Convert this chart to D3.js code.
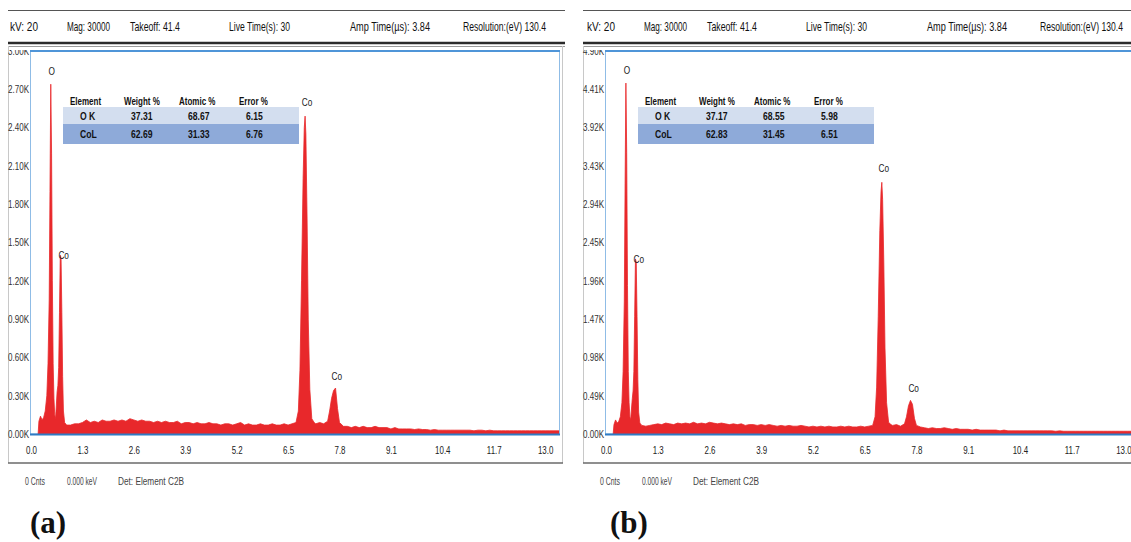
<!DOCTYPE html>
<html><head><meta charset="utf-8">
<script src="https://cdn.jsdelivr.net/npm/d3@7"></script>
<style>
body{margin:0;background:#fff;}
svg{display:block;}
</style></head><body>
<svg id="c" width="1131" height="542"></svg>
<script>
// ---------------- data ----------------
const energy = [
  0.18,0.20,0.24,0.28,0.32,0.36,0.40,0.43,0.46,0.48,0.50,0.52,0.54,0.56,0.58,0.60,0.62,0.64,0.66,0.68,0.70,0.72,0.74,0.76,0.78,0.80,0.82,0.85,0.90,
  1.0,1.1,1.2,1.3,1.4,1.5,1.6,1.7,1.8,1.9,
  2.0,2.1,2.2,2.3,2.4,2.5,2.6,2.7,2.8,2.9,
  3.0,3.1,3.2,3.3,3.4,3.5,3.6,3.7,3.8,3.9,
  4.0,4.1,4.2,4.3,4.4,4.5,4.6,4.7,4.8,4.9,
  5.0,5.1,5.2,5.3,5.4,5.5,5.6,5.7,5.8,5.9,
  6.0,6.1,6.2,6.3,6.4,6.5,6.6,
  6.70,6.76,6.80,6.84,6.88,6.91,6.93,6.95,6.98,7.01,7.05,7.10,7.16,7.20,7.30,7.40,
  7.50,7.55,7.60,7.65,7.70,7.75,7.80,7.90,
  8.0,8.1,8.2,8.3,8.4,8.5,8.6,8.7,8.8,8.9,
  9.0,9.1,9.2,9.3,9.4,9.5,9.6,9.7,9.8,9.9,
  10.0,10.1,10.2,10.3,10.4,10.5,10.6,10.7,10.8,10.9,
  11.0,11.1,11.2,11.3,11.4,11.5,11.6,11.7,11.8,11.9,
  12.0,12.1,12.2,12.3,12.4,12.5,12.6,12.7,12.8,12.9,
  13.0,13.1,13.2,13.3,13.4
];
// counts in K (thousands)
const countsA = [
  0,0.10,0.14,0.11,0.13,0.18,0.30,0.55,1.05,1.90,2.74,2.20,1.20,0.55,0.28,0.15,0.12,0.22,0.33,0.38,0.52,0.95,1.40,1.38,0.95,0.45,0.18,0.09,0.07,
  0.07,0.08,0.08,0.09,0.11,0.09,0.10,0.09,0.11,0.10,
  0.10,0.11,0.10,0.11,0.10,0.12,0.11,0.10,0.11,0.10,
  0.10,0.09,0.10,0.09,0.10,0.09,0.09,0.10,0.08,0.09,
  0.09,0.08,0.09,0.08,0.08,0.09,0.08,0.08,0.07,0.08,
  0.08,0.07,0.08,0.09,0.07,0.08,0.07,0.07,0.08,0.07,
  0.07,0.08,0.07,0.07,0.08,0.07,0.08,
  0.09,0.18,0.50,1.20,2.00,2.40,2.49,2.35,1.70,0.90,0.35,0.12,0.09,0.08,0.09,0.08,
  0.10,0.18,0.28,0.34,0.36,0.20,0.09,0.06,
  0.06,0.05,0.06,0.05,0.06,0.05,0.05,0.06,0.05,0.05,
  0.05,0.04,0.05,0.04,0.04,0.04,0.04,0.035,0.04,0.035,
  0.035,0.03,0.035,0.03,0.03,0.03,0.03,0.03,0.03,0.03,
  0.03,0.03,0.025,0.03,0.03,0.025,0.03,0.025,0.025,0.025,
  0.025,0.025,0.025,0.025,0.025,0.025,0.025,0.025,0.025,0.025,
  0.025,0.025,0.025,0.025,0.025
];
const countsB = [
  0,0.12,0.18,0.14,0.16,0.22,0.40,0.80,1.70,3.20,4.49,3.60,1.90,0.80,0.40,0.22,0.18,0.32,0.45,0.55,0.80,1.50,2.24,2.20,1.50,0.70,0.28,0.14,0.11,
  0.10,0.11,0.12,0.13,0.12,0.14,0.13,0.12,0.14,0.13,
  0.14,0.13,0.15,0.13,0.14,0.13,0.15,0.14,0.13,0.14,
  0.13,0.12,0.13,0.12,0.13,0.11,0.12,0.12,0.11,0.12,
  0.11,0.12,0.11,0.10,0.11,0.10,0.11,0.10,0.10,0.11,
  0.10,0.09,0.10,0.09,0.10,0.09,0.10,0.09,0.09,0.10,
  0.09,0.10,0.09,0.09,0.10,0.09,0.10,
  0.11,0.22,0.60,1.50,2.60,3.10,3.22,3.00,2.20,1.10,0.40,0.15,0.12,0.11,0.12,0.10,
  0.13,0.22,0.36,0.43,0.38,0.20,0.11,0.09,
  0.08,0.07,0.08,0.07,0.07,0.08,0.07,0.06,0.07,0.06,
  0.06,0.06,0.05,0.06,0.05,0.05,0.05,0.05,0.05,0.04,
  0.05,0.04,0.04,0.04,0.04,0.04,0.04,0.04,0.04,0.04,
  0.04,0.04,0.04,0.035,0.04,0.035,0.035,0.035,0.035,0.035,
  0.035,0.035,0.035,0.035,0.035,0.035,0.035,0.035,0.035,0.035,
  0.035,0.035,0.035,0.035,0.035
];
const xTicks = [0.0,1.3,2.6,3.9,5.2,6.5,7.8,9.1,10.4,11.7,13.0];
const yTicksA = [0,0.30,0.60,0.90,1.20,1.50,1.80,2.10,2.40,2.70,3.00];
const yTicksB = [0,0.49,0.98,1.47,1.96,2.45,2.94,3.43,3.92,4.41,4.90];
const headerLabels = ["kV: 20","Mag: 30000","Takeoff: 41.4","Live Time(s): 30","Amp Time(µs): 3.84","Resolution:(eV) 130.4"];
const footerLabels = ["0 Cnts","0.000 keV","Det: Element C2B"];
const tableColumns = ["Element","Weight %","Atomic %","Error %"];
const tableElements = ["O K","CoL"];
const weightA = ["37.31","62.69"], atomicA = ["68.67","31.33"], errorA = ["6.15","6.76"];
const weightB = ["37.17","62.83"], atomicB = ["68.55","31.45"], errorB = ["5.98","6.51"];
const peakEnergies = [0.50,0.75,6.93,7.68];
const peakNames = ["O","Co","Co","Co"];
const panelNames = ["(a)","(b)"];

// ---------------- drawing ----------------
const svg = d3.select("#c");
const SANS = "'Liberation Sans',Arial,sans-serif";
const RED = "#e8282b";

function condense(sel, f){
  sel.each(function(){
    const L = this.getComputedTextLength();
    d3.select(this).attr("textLength", L*f).attr("lengthAdjust","spacingAndGlyphs");
  });
  return sel;
}

const panels = [
  {ox:0, kevPx:39.55, yMax:3.0, yTicks:yTicksA, counts:countsA, w:weightA, a:atomicA, e:errorA, name:panelNames[0], nameX:30},
  {ox:575, kevPx:39.8, yMax:4.9, yTicks:yTicksB, counts:countsB, w:weightB, a:atomicB, e:errorB, name:panelNames[1], nameX:35}
];

const headerX = [10,67,130,229,350,463];
const headerW = [28,43,50,61,80,83];
const footerX = [25,67,118];
const footerW = [20,30,66];
const colX = [70,124,179,239];
const valX = [80,131,188,246];
const labelDx = [1,3,2,2];
const labelDy = [-13,0,-14,-12];

panels.forEach((p,pi) => {
  const g = svg.append("g");
  const ox = p.ox;
  const plotL = ox+30, plotT = 51, plotB = 434, plotR = ox+559;
  const x = d3.scaleLinear().domain([0,13.4]).range([ox+31, ox+31+13.4*p.kevPx]);
  const y = d3.scaleLinear().domain([0,p.yMax]).range([plotB, plotT]);
  const lineR = pi===0 ? ox+565 : 1131;

  // outer frame
  g.append("line").attr("x1",ox+8).attr("x2",lineR).attr("y1",10.5).attr("y2",10.5).attr("stroke","#555").attr("stroke-width",1);
  g.append("line").attr("x1",ox+8).attr("x2",lineR).attr("y1",43).attr("y2",43).attr("stroke","#2a2a2a").attr("stroke-width",2.5);
  g.append("line").attr("x1",ox+8).attr("x2",lineR).attr("y1",46.5).attr("y2",46.5).attr("stroke","#9a9a9a").attr("stroke-width",1);
  g.append("line").attr("x1",ox+8.5).attr("x2",ox+8.5).attr("y1",46).attr("y2",463).attr("stroke","#c8c8c8").attr("stroke-width",1);
  if(pi===0) g.append("line").attr("x1",ox+562.5).attr("x2",ox+562.5).attr("y1",46).attr("y2",463).attr("stroke","#c8c8c8").attr("stroke-width",1);
  g.append("line").attr("x1",ox+8).attr("x2",pi===0?ox+563:1131).attr("y1",463).attr("y2",463).attr("stroke","#6a6a6a").attr("stroke-width",1.6);

  // header
  headerLabels.forEach((t,i)=>{
    g.append("text").attr("x",ox+headerX[i]+(pi?2:0)).attr("y",30.5).text(t)
      .attr("font-family",SANS).attr("font-size",13).attr("fill","#111")
      .attr("textLength",headerW[i]).attr("lengthAdjust","spacingAndGlyphs");
  });

  // clip for plot
  const cid = "clip"+pi;
  svg.append("clipPath").attr("id",cid).append("rect").attr("x",plotL).attr("y",plotT).attr("width",plotR-plotL).attr("height",plotB-plotT);

  // plot border
  g.append("rect").attr("x",plotL+0.5).attr("y",plotT).attr("width",plotR-plotL).attr("height",plotB-plotT)
    .attr("fill","none").attr("stroke","#8fbce6").attr("stroke-width",1);
  g.append("line").attr("x1",plotL).attr("x2",plotR+1).attr("y1",plotT).attr("y2",plotT).attr("stroke","#4f95d8").attr("stroke-width",2);

  // spectrum
  const pts = energy.map((e,i)=>[e,p.counts[i]]);
  const area = d3.area().x(d=>x(d[0])).y0(y(0)).y1(d=>y(d[1]));
  g.append("path").datum(pts).attr("clip-path",`url(#${cid})`).attr("d",area)
    .attr("fill",RED).attr("stroke",RED).attr("stroke-width",0.8).attr("stroke-linejoin","round");

  // x axis line
  g.append("line").attr("x1",plotL).attr("x2",plotR+1).attr("y1",plotB+0.5).attr("y2",plotB+0.5).attr("stroke","#2f7bc4").attr("stroke-width",2.2);

  // axes (labels only)
  const xa = g.append("g").attr("transform",`translate(0,${plotB})`)
    .call(d3.axisBottom(x).tickValues(xTicks).tickFormat(d3.format(".1f")).tickSize(0).tickPadding(12));
  xa.select(".domain").remove();
  condense(xa.selectAll("text").attr("font-family",SANS).attr("font-size",11).attr("fill","#222"), 0.72);

  const yclip = "yclip"+pi;
  svg.append("clipPath").attr("id",yclip).append("rect").attr("x",ox).attr("y",plotT-1).attr("width",40).attr("height",400);
  const yw = g.append("g").attr("clip-path",`url(#${yclip})`);
  const ya = yw.append("g").attr("transform",`translate(${plotL-1},0)`)
    .call(d3.axisLeft(y).tickValues(p.yTicks).tickFormat(d=>d3.format(".2f")(d)+"K").tickSize(0).tickPadding(0));
  ya.select(".domain").remove();
  ya.selectAll("text").attr("font-family",SANS).attr("font-size",10.5).attr("fill","#333")
    .attr("textLength",21).attr("lengthAdjust","spacingAndGlyphs");

  // peak labels
  peakEnergies.forEach((pe,i)=>{
    let best = 0;
    energy.forEach((e,j)=>{ if(Math.abs(e-pe)<=0.06 && p.counts[j]>best) best = p.counts[j]; });
    const t = g.append("text").attr("x",x(pe)+labelDx[i]).attr("y",y(best)+labelDy[i]).text(peakNames[i])
      .attr("text-anchor","middle").attr("dominant-baseline","central")
      .attr("font-family",SANS).attr("font-size",11).attr("fill","#222");
    condense(t, 0.75);
  });

  // table
  const tL = ox+63, tR = ox+299;
  g.append("rect").attr("x",tL).attr("y",107).attr("width",tR-tL).attr("height",17).attr("fill","#d3deef");
  g.append("rect").attr("x",tL).attr("y",124).attr("width",tR-tL).attr("height",20).attr("fill","#8eaad9");
  tableColumns.forEach((c,i)=>{
    const t = g.append("text").attr("x",ox+colX[i]).attr("y",104.5).text(c)
      .attr("font-family",SANS).attr("font-size",10).attr("font-weight","bold").attr("fill","#111");
    condense(t, 0.8);
  });
  tableElements.forEach((el,r)=>{
    const yy = r===0 ? 120 : 138;
    [el, p.w[r], p.a[r], p.e[r]].forEach((v,i)=>{
      const t = g.append("text").attr("x",ox+valX[i]).attr("y",yy).text(v)
        .attr("font-family",SANS).attr("font-size",10.5).attr("fill","#111")
        .attr("font-weight", "bold");
      condense(t, 0.82);
    });
  });

  // footer
  footerLabels.forEach((t,i)=>{
    g.append("text").attr("x",ox+footerX[i]).attr("y",485).text(t)
      .attr("font-family",SANS).attr("font-size",10).attr("fill","#444")
      .attr("textLength",footerW[i]).attr("lengthAdjust","spacingAndGlyphs");
  });

  // panel label
  g.append("text").attr("x",p.nameX+ox).attr("y",533).text(p.name)
    .attr("font-family","'Liberation Serif','Times New Roman',serif").attr("font-weight","bold")
    .attr("font-size",31).attr("fill","#111");
});
</script>
</body></html>
